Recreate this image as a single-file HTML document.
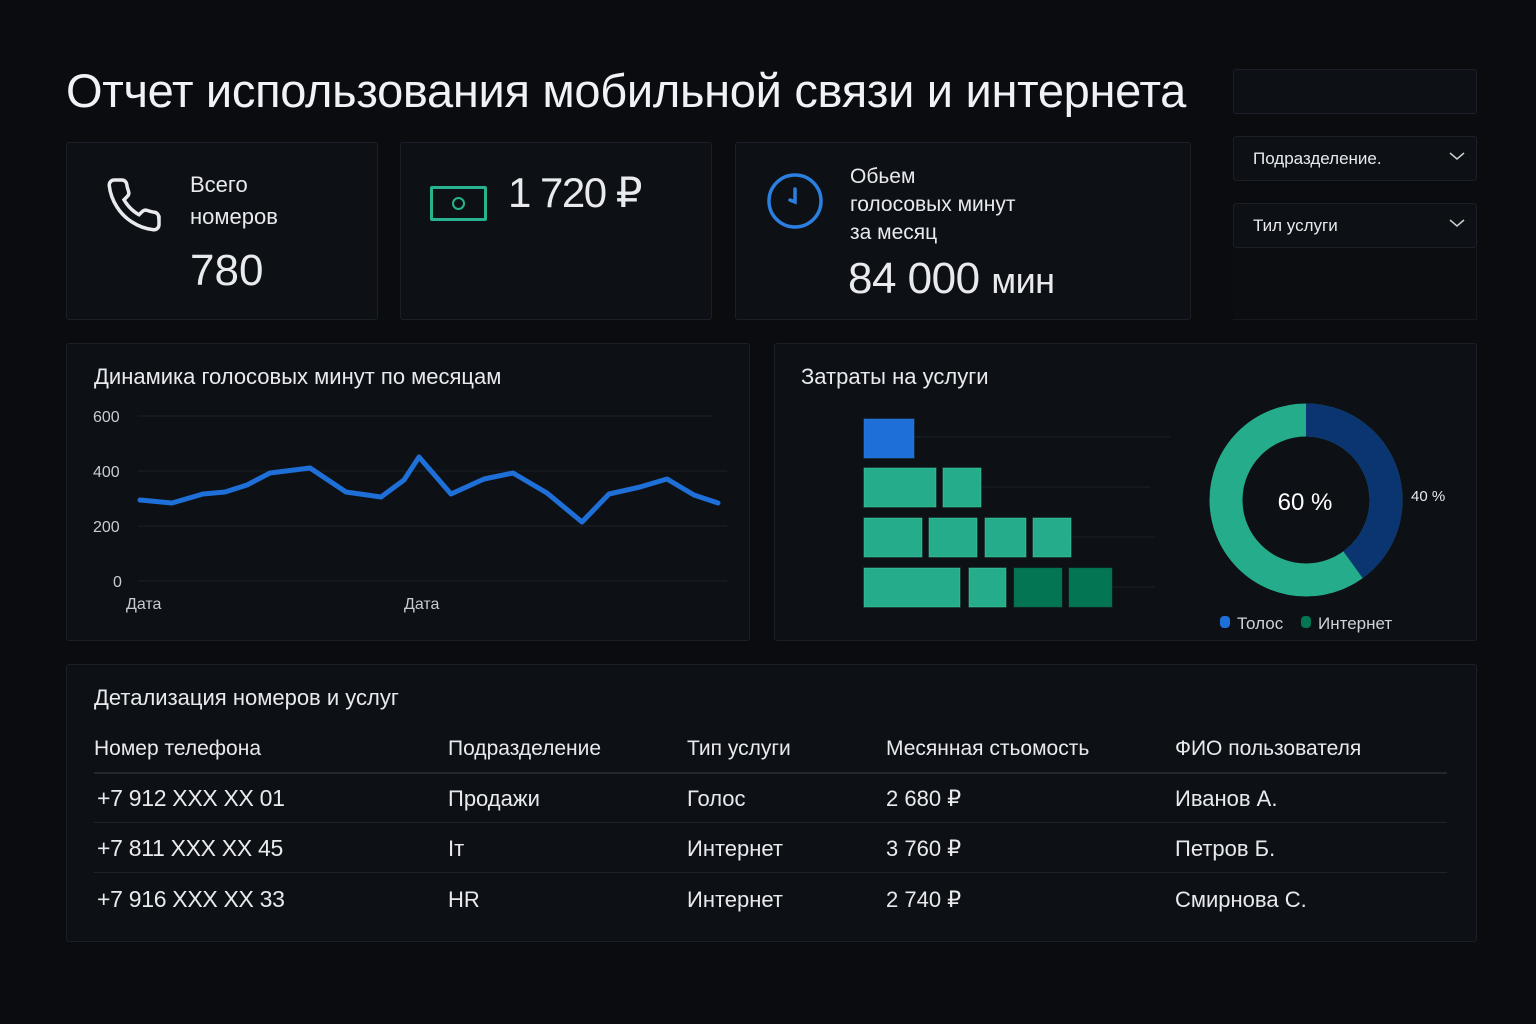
<!DOCTYPE html>
<html><head><meta charset="utf-8"><style>
*{margin:0;padding:0;box-sizing:border-box}
body{width:1536px;height:1024px;background:#0a0c10;font-family:"Liberation Sans","DejaVu Sans",sans-serif;color:#e8eaee;position:relative;overflow:hidden}
.p{position:absolute;background:#0d1015;border:1px solid #1b1f27;border-radius:3px}
.t{position:absolute;white-space:nowrap}
</style></head><body>
<div class="t" style="left:66px;top:63px;font-size:47px;color:#f0f2f5;letter-spacing:-0.3px">Отчет использования мобильной связи и интернета</div>
<div class="p" style="left:1233px;top:69px;width:244px;height:45px"></div>
<div class="p" style="left:1233px;top:136px;width:244px;height:45px"></div>
<div class="t" style="left:1253px;top:149px;font-size:17px">Подразделение.</div>
<svg style="position:absolute;left:1448px;top:150px" width="18" height="12"><path d="M2 3l7 6 7-6" fill="none" stroke="#ccc" stroke-width="1.5"/></svg>
<div class="p" style="left:1233px;top:203px;width:244px;height:45px"></div>
<div class="t" style="left:1253px;top:216px;font-size:17px">Тил услуги</div>
<svg style="position:absolute;left:1448px;top:217px" width="18" height="12"><path d="M2 3l7 6 7-6" fill="none" stroke="#ccc" stroke-width="1.5"/></svg>
<div style="position:absolute;left:1233px;top:248px;width:244px;height:72px;border-right:1px solid #15181e;border-bottom:1px solid #15181e;background:#0b0d11"></div>

<div class="p" style="left:66px;top:142px;width:312px;height:178px"></div>
<svg style="position:absolute;left:104px;top:175px" width="60" height="60" viewBox="0 0 24 24"><path d="M22 16.9v3a2 2 0 0 1-2.2 2 19.8 19.8 0 0 1-8.6-3.1 19.5 19.5 0 0 1-6-6A19.8 19.8 0 0 1 2.1 4.2 2 2 0 0 1 4.1 2h3a2 2 0 0 1 2 1.7c.1 1 .4 1.9.7 2.8a2 2 0 0 1-.5 2.1L8 9.9a16 16 0 0 0 6 6l1.3-1.3a2 2 0 0 1 2.1-.4c.9.3 1.8.6 2.8.7a2 2 0 0 1 1.7 2z" fill="none" stroke="#e8eaee" stroke-width="1.4"/></svg>
<div class="t" style="left:190px;top:169px;font-size:22px;line-height:32px">Всего<br>номеров</div>
<div class="t" style="left:190px;top:246px;font-size:44px">780</div>

<div class="p" style="left:400px;top:142px;width:312px;height:178px"></div>
<div style="position:absolute;left:430px;top:186px;width:57px;height:35px;border:3px solid #27b390;border-radius:2px"></div>
<div style="position:absolute;left:452px;top:197px;width:13px;height:13px;border:2.5px solid #27b390;border-radius:50%"></div>
<div class="t" style="left:508px;top:168px;font-size:42px;letter-spacing:-1.5px">1 720 ₽</div>

<div class="p" style="left:735px;top:142px;width:456px;height:178px"></div>
<svg style="position:absolute;left:766px;top:172px" width="58" height="58"><circle cx="29" cy="29" r="26" fill="none" stroke="#2a7fe0" stroke-width="3.5"/><path d="M29 17v13l-5 -2" fill="none" stroke="#2a7fe0" stroke-width="3.5" stroke-linecap="round"/></svg>
<div class="t" style="left:850px;top:163px;font-size:21px;line-height:28px">Обьем<br>голосовых минут<br>за месяц</div>
<div class="t" style="left:848px;top:254px;font-size:44px;letter-spacing:-0.5px">84 000 <span style="font-size:36px">мин</span></div>

<div class="p" style="left:66px;top:343px;width:684px;height:298px"></div>
<div class="t" style="left:94px;top:364px;font-size:22px">Динамика голосовых минут по месяцам</div>
<div class="p" style="left:774px;top:343px;width:703px;height:298px"></div>
<div class="t" style="left:801px;top:364px;font-size:22px">Затраты на услуги</div>
<svg style="position:absolute;left:0;top:0" width="1536" height="1024">
<g stroke="#1c2029" stroke-width="1"><line x1="138" y1="416" x2="712" y2="416"/><line x1="138" y1="471" x2="727" y2="471"/><line x1="138" y1="526" x2="727" y2="526"/><line x1="138" y1="581" x2="727" y2="581"/></g>
<g font-size="16" fill="#c8ccd2" font-family="Liberation Sans,sans-serif"><text x="93" y="422">600</text><text x="93" y="477">400</text><text x="93" y="532">200</text><text x="113" y="587">0</text><text x="126" y="609">Дата</text><text x="404" y="609">Дата</text></g>
<polyline fill="none" stroke="#1f6fd8" stroke-width="5" stroke-linejoin="round" stroke-linecap="round" points="140,500 172,503 203,494 225,492 247,485 270,473 310,468 346,492 381,497 404,480 419,457 451,494 484,479 513,473 547,493 582,522 609,494 640,487 667,479 694,495 718,503"/>
<g stroke="#1c2029"><line x1="914" y1="437" x2="1170" y2="437"/><line x1="981" y1="487" x2="1150" y2="487"/><line x1="1071" y1="537" x2="1155" y2="537"/><line x1="1112" y1="587" x2="1155" y2="587"/></g>
<g stroke="#3fd0a4" stroke-opacity=".5" stroke-width="1">
<rect x="864" y="419" width="50" height="39" fill="#1f6fd8" stroke="#2a7fe0"/>
<rect x="864" y="468" width="72" height="39" fill="#25ad8b"/><rect x="943" y="468" width="38" height="39" fill="#25ad8b"/>
<rect x="864" y="518" width="58" height="39" fill="#25ad8b"/><rect x="929" y="518" width="48" height="39" fill="#25ad8b"/><rect x="985" y="518" width="41" height="39" fill="#25ad8b"/><rect x="1033" y="518" width="38" height="39" fill="#25ad8b"/>
<rect x="864" y="568" width="96" height="39" fill="#25ad8b"/><rect x="969" y="568" width="37" height="39" fill="#25ad8b"/><rect x="1014" y="568" width="48" height="39" fill="#037552" stroke="#05603f"/><rect x="1069" y="568" width="43" height="39" fill="#037552" stroke="#05603f"/>
</g>
<circle cx="1306" cy="500" r="80" fill="none" stroke="#25ad8b" stroke-width="33"/>
<circle cx="1306" cy="500" r="80" fill="none" stroke="#0b3570" stroke-width="33" stroke-dasharray="201 1000" transform="rotate(-90 1306 500)"/>
<text x="1305" y="510" text-anchor="middle" font-size="24" fill="#fff" font-family="Liberation Sans,sans-serif">60 %</text>
<text x="1411" y="501" font-size="15" fill="#e8eaee" font-family="Liberation Sans,sans-serif">40 %</text>
<rect x="1220" y="616" width="10" height="12" rx="4" fill="#1f6fd8"/><text x="1237" y="629" font-size="17" fill="#d0d4da" font-family="Liberation Sans,sans-serif">Толос</text>
<rect x="1301" y="616" width="10" height="12" rx="4" fill="#037552"/><text x="1318" y="629" font-size="17" fill="#d0d4da" font-family="Liberation Sans,sans-serif">Интернет</text>
</svg>

<div class="p" style="left:66px;top:664px;width:1411px;height:278px"></div>
<div class="t" style="left:94px;top:685px;font-size:22px">Детализация номеров и услуг</div>
<div style="position:absolute;left:94px;top:772px;width:1353px;height:2px;background:#23272f"></div>
<div style="position:absolute;left:94px;top:822px;width:1353px;height:1px;background:#1e222a"></div>
<div style="position:absolute;left:94px;top:872px;width:1353px;height:1px;background:#1e222a"></div>
<div class="t" style="left:94px;top:737px;font-size:21px">Номер телефона</div>
<div class="t" style="left:448px;top:737px;font-size:21px">Подразделение</div>
<div class="t" style="left:687px;top:737px;font-size:21px">Тип услуги</div>
<div class="t" style="left:886px;top:737px;font-size:21px">Месянная стьомость</div>
<div class="t" style="left:1175px;top:737px;font-size:21px">ФИО пользователя</div>
<div class="t" style="left:97px;top:785px;font-size:23px;letter-spacing:-0.3px">+7 912 XXX XX 01</div>
<div class="t" style="left:448px;top:786px;font-size:22px">Продажи</div>
<div class="t" style="left:687px;top:786px;font-size:22px">Голос</div>
<div class="t" style="left:886px;top:786px;font-size:22px">2 680 ₽</div>
<div class="t" style="left:1175px;top:786px;font-size:22px">Иванов А.</div>
<div class="t" style="left:97px;top:835px;font-size:23px;letter-spacing:-0.3px">+7 811 XXX XX 45</div>
<div class="t" style="left:448px;top:836px;font-size:22px">Iт</div>
<div class="t" style="left:687px;top:836px;font-size:22px">Интернет</div>
<div class="t" style="left:886px;top:836px;font-size:22px">3 760 ₽</div>
<div class="t" style="left:1175px;top:836px;font-size:22px">Петров Б.</div>
<div class="t" style="left:97px;top:886px;font-size:23px;letter-spacing:-0.3px">+7 916 XXX XX 33</div>
<div class="t" style="left:448px;top:887px;font-size:22px">HR</div>
<div class="t" style="left:687px;top:887px;font-size:22px">Интернет</div>
<div class="t" style="left:886px;top:887px;font-size:22px">2 740 ₽</div>
<div class="t" style="left:1175px;top:887px;font-size:22px">Смирнова С.</div>
</body></html>
